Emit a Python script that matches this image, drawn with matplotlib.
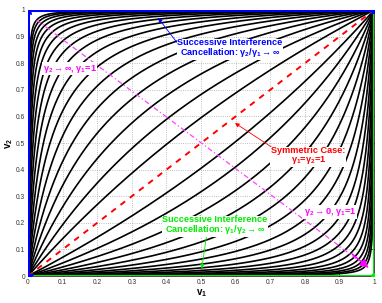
import numpy as np
import matplotlib.pyplot as plt

# curve parameters (gamma2 with gamma1 = 1)
gammas_high = [1.47, 2.15, 3.16, 4.64, 6.81, 10, 14.7, 21.5, 31.6, 46.4, 68.1,
               100, 147, 215, 316, 464, 681, 1000]
gammas_low = [0.681, 0.464, 0.316, 0.215, 0.147, 0.1, 0.0681, 0.0464, 0.0316,
              0.0215, 0.0147, 0.01, 0.00681, 0.00464, 0.00316, 0.00215, 0.00147, 0.001]
ticks = [0, 0.1, 0.2, 0.3, 0.4, 0.5, 0.6, 0.7, 0.8, 0.9, 1]
tick_labels = ['0', '0.1', '0.2', '0.3', '0.4', '0.5', '0.6', '0.7', '0.8', '0.9', '1']

plt.rcParams['font.family'] = ['Liberation Sans', 'DejaVu Sans']
plt.rcParams['mathtext.fontset'] = 'custom'
plt.rcParams['mathtext.rm'] = 'Liberation Sans:bold'
plt.rcParams['mathtext.it'] = 'Liberation Sans:bold'
plt.rcParams['mathtext.bf'] = 'Liberation Sans:bold'


def boundary(v1, g):
    return g * v1 / (1 + (g - 1) * v1)


fig = plt.figure(figsize=(3.82, 3.03), dpi=100)
ax = fig.add_axes([0.0733, 0.089, 0.906, 0.878])

v1 = np.linspace(0, 1, 800)
for g in gammas_high + gammas_low:
    ax.plot(v1, boundary(v1, g), color='black', lw=1.2, zorder=2)

# limiting cases
ax.plot([0, 0, 1], [0, 1, 1], color='blue', lw=2.2, zorder=4)
ax.plot([0, 1, 1], [0, 0, 1], color='#00ee00', lw=2.2, zorder=4)
ax.plot([1], [0], 'o', color='#00ee00', ms=4, zorder=5)
ax.plot([0, 0, 1], [0, 1, 1], '*', color='blue', ms=8, lw=0, zorder=6)

# symmetric case and the gamma2 sweep direction
ax.plot([0, 1], [0, 1], color='red', lw=1.4, ls=(0, (3, 3)), zorder=3)
ax.plot([0.025, 0.985], [0.962, 0.03], color='#ff44ff', lw=0.9, ls=(0, (4, 2, 1, 2)), zorder=3)
ax.annotate('', xy=(0.99, 0.025), xytext=(0.93, 0.09),
            arrowprops=dict(arrowstyle='-|>', color='magenta', lw=1, mutation_scale=12),
            zorder=4)

box = dict(facecolor='white', edgecolor='none', pad=0.5)
txt = dict(fontsize=6.6, fontweight='bold', ha='center', va='center',
           linespacing=0.95, bbox=box, zorder=7)
ax.annotate('Successive Interference\nCancellation: $\\gamma_2/\\gamma_1\\rightarrow\\infty$',
            xy=(0.376, 0.97), xytext=(0.584, 0.855), color='blue',
            arrowprops=dict(arrowstyle='-|>', color='blue', lw=0.6, mutation_scale=6,
                            shrinkA=0, shrinkB=0, relpos=(0.0, 0.75)), **txt)
ax.annotate('Symmetric Case:\n$\\gamma_1$=$\\gamma_2$=1',
            xy=(0.598, 0.575), xytext=(0.81, 0.451), color='red',
            arrowprops=dict(arrowstyle='-|>', color='red', lw=0.6, mutation_scale=6,
                            shrinkA=0, shrinkB=0, relpos=(0.0, 0.95)), **txt)
ax.annotate('Successive Interference\nCancellation: $\\gamma_1/\\gamma_2\\rightarrow\\infty$',
            xy=(0.502, 0.028), xytext=(0.54, 0.19), color='#00ee00',
            arrowprops=dict(arrowstyle='-|>', color='#00ee00', lw=0.6, mutation_scale=6,
                            shrinkA=0, shrinkB=0, relpos=(0.42, 0.0)), **txt)
ax.text(0.12, 0.78, '$\\gamma_2\\rightarrow\\infty$, $\\gamma_1$=1', color='magenta', **txt)
ax.text(0.873, 0.24, '$\\gamma_2\\rightarrow0$, $\\gamma_1$=1', color='magenta', **txt)

ax.set_xlim(0, 1)
ax.set_ylim(0, 1)
ax.set_xticks(ticks)
ax.set_yticks(ticks)
ax.set_xticklabels(tick_labels)
ax.set_yticklabels(tick_labels)
ax.tick_params(labelsize=4.8, length=2, width=0.5, direction='in', pad=2,
               labelcolor='#333333', top=True, right=True)
ax.grid(True, color='#aaaaaa', ls=':', lw=0.6)
ax.set_axisbelow(True)
ax.set_xlabel('$v_1$', fontsize=7, labelpad=1)
ax.set_ylabel('$v_2$', fontsize=7, labelpad=1)
for s in ax.spines.values():
    s.set_linewidth(0.5)

fig.savefig('out.png', dpi=100)
